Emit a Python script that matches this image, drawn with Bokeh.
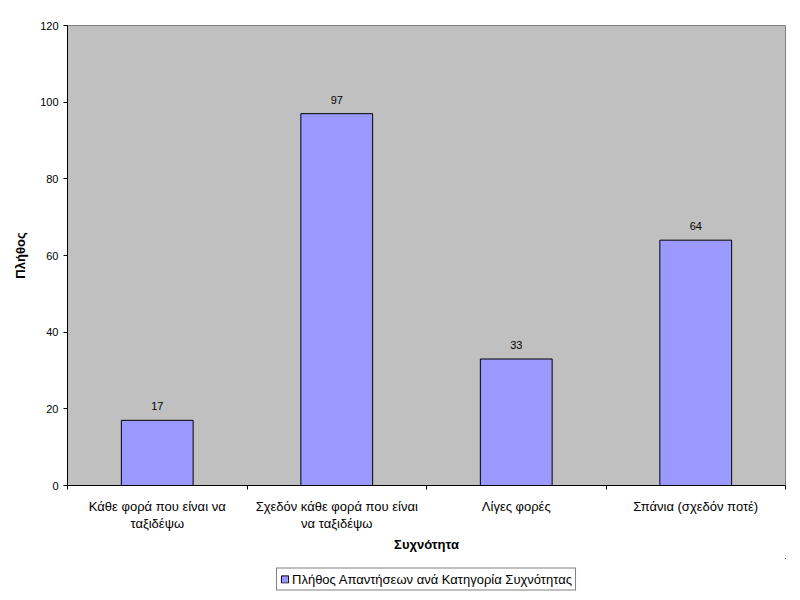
from bokeh.plotting import figure
from bokeh.layouts import column
from bokeh.models import (ColumnDataSource, FixedTicker, Range1d, LabelSet,
                          Legend, LegendItem)
from bokeh.core.properties import value
from bokeh.embed import file_html
from bokeh.resources import INLINE

# ---- data ----
categories = ["Κάθε φορά που είναι να\nταξιδέψω",
              "Σχεδόν κάθε φορά που είναι\nνα ταξιδέψω",
              "Λίγες φορές",
              "Σπάνια (σχεδόν ποτέ)"]
counts = [17, 97, 33, 64]
y_ticks = [0, 20, 40, 60, 80, 100, 120]
series_name = "Πλήθος Απαντήσεων ανά Κατηγορία Συχνότητας"
x_title = "Συχνότητα"
y_title = "Πλήθος"

FONT = "Liberation Sans"
BAR_FILL = "#9999FF"

xs = [i + 0.5 for i in range(len(categories))]
src = ColumnDataSource(dict(x=xs, top=counts, lbl=[str(c) for c in counts]))

p = figure(width=790, height=558,
           min_border_left=67, min_border_right=5,
           min_border_top=25, min_border_bottom=73,
           x_range=Range1d(0, len(categories)), y_range=Range1d(0, 120),
           output_backend="svg", toolbar_location=None,
           background_fill_color="#C0C0C0", border_fill_color="white")
p.outline_line_color = "#808080"
p.grid.visible = False

r = p.vbar(x="x", top="top", width=0.4, source=src,
           fill_color=BAR_FILL, line_color="black", line_width=1)

labels = LabelSet(x="x", y="top", text="lbl", source=src, y_offset=10,
                  text_align="center", text_baseline="bottom",
                  text_font=value(FONT), text_font_size=value("11px"),
                  text_color="black")
p.add_layout(labels)

# x axis
xa = p.xaxis[0]
xa.ticker = FixedTicker(ticks=xs, minor_ticks=list(range(len(categories) + 1)))
xa.major_label_overrides = {x: c for x, c in zip(xs, categories)}
xa.major_tick_out = 0
xa.major_tick_in = 0
xa.minor_tick_out = 4
xa.minor_tick_in = 0
xa.minor_tick_line_color = "black"
xa.axis_line_color = "black"
xa.major_label_text_font = FONT
xa.major_label_text_font_size = "13px"
xa.major_label_text_color = "black"
xa.major_label_text_line_height = 1.15
xa.major_label_standoff = 9
xa.axis_label = x_title
xa.axis_label_text_font = FONT
xa.axis_label_text_font_size = "13px"
xa.axis_label_text_font_style = "bold"
xa.axis_label_text_color = "black"
xa.axis_label_standoff = 3

# y axis
ya = p.yaxis[0]
ya.ticker = FixedTicker(ticks=y_ticks)
ya.major_tick_out = 4
ya.major_tick_in = 0
ya.minor_tick_out = 0
ya.minor_tick_in = 0
ya.major_tick_line_color = "black"
ya.axis_line_color = "black"
ya.major_label_text_font = FONT
ya.major_label_text_font_size = "11px"
ya.major_label_text_color = "black"
ya.major_label_standoff = 5
ya.axis_label = y_title
ya.axis_label_text_font = FONT
ya.axis_label_text_font_size = "13px"
ya.axis_label_text_font_style = "bold"
ya.axis_label_text_color = "black"
ya.axis_label_standoff = 9

# legend strip below the chart (its bars lie outside the visible range)
p2 = figure(width=790, height=42,
            min_border_left=67, min_border_right=5,
            min_border_top=0, min_border_bottom=0,
            x_range=Range1d(-20, -10), y_range=Range1d(-20, -10),
            x_axis_location=None, y_axis_location=None,
            output_backend="svg", toolbar_location=None,
            background_fill_color="white", border_fill_color="white")
p2.outline_line_color = None
p2.grid.visible = False
r2 = p2.vbar(x="x", top="top", width=0.4, source=src,
             fill_color=BAR_FILL, line_color="black", line_width=1)

legend = Legend(items=[LegendItem(label=series_name, renderers=[r2])],
                location="center", orientation="horizontal",
                border_line_color="black", border_line_width=1,
                background_fill_color="white", background_fill_alpha=1,
                label_text_font=FONT, label_text_font_size="13px",
                label_text_color="black", glyph_width=9, glyph_height=9,
                label_standoff=3, padding=3, margin=0, spacing=0,
                label_height=13)
p2.add_layout(legend, "center")

layout = column(p, p2, spacing=0)
open("out.html", "w").write(file_html(layout, INLINE))
